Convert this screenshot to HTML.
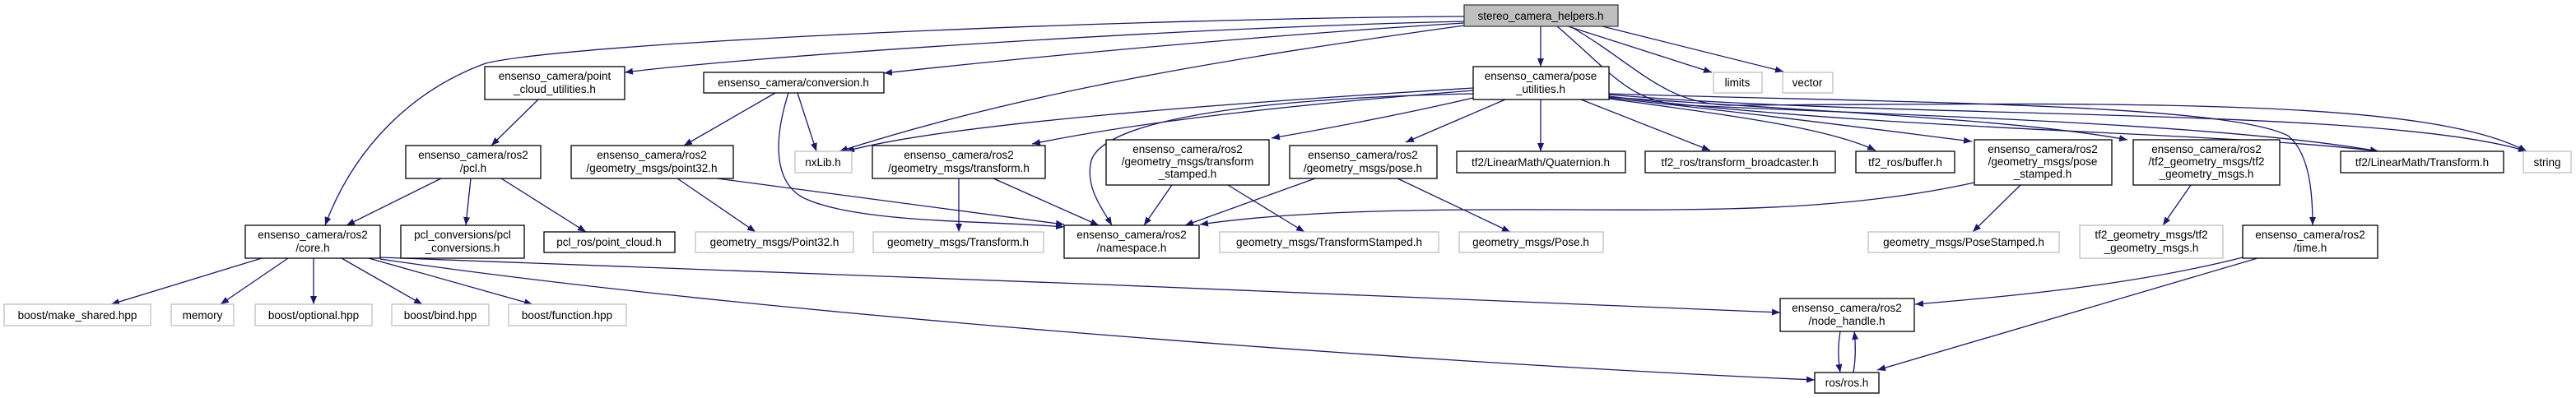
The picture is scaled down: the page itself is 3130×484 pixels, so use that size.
<!DOCTYPE html>
<html><head><meta charset="utf-8"><style>
html,body{margin:0;padding:0;background:#fff}
svg{display:block}
text{font-family:"Liberation Sans",sans-serif;font-size:13.5px;fill:#000}
.b{fill:#fff;stroke:#000;stroke-width:1.3}
.g{fill:#fff;stroke:#bfbfbf;stroke-width:1.3}
.e{fill:none;stroke:#191970;stroke-width:1.3}
</style></head><body>
<svg width="3130" height="484" viewBox="0 0 3130 484" xmlns="http://www.w3.org/2000/svg">
<defs><marker id="a" viewBox="0 0 10 8" refX="10" refY="4" markerWidth="10" markerHeight="8" markerUnits="userSpaceOnUse" orient="auto"><path d="M0,0L10,4L0,8z" fill="#191970"/></marker></defs>
<g marker-end="url(#a)">
<!-- stereo edges -->
<path class="e" d="M1779,26 C1400,35 900,70 759,88"/>
<path class="e" d="M1779,20 C1400,22 700,50 590,77 C500,110 430,180 395,274"/>
<path class="e" d="M1779,28 C1500,45 1200,75 1074,89"/>
<path class="e" d="M1779,31 C1500,70 1250,110 1020,184"/>
<path class="e" d="M1872,32 L1872,81"/>
<path class="e" d="M1905,32 L2080,88"/>
<path class="e" d="M1947,32 L2167,87"/>
<path class="e" d="M1892,32 C1960,90 1980,125 2050,128 C2300,140 2700,150 2890,184"/>
<path class="e" d="M1908,32 C1990,80 2020,125 2100,128 C2600,125 2950,120 3070,184"/>
<!-- pose_utilities edges -->
<path class="e" d="M1790,107 C1500,125 1150,150 1028,184"/>
<path class="e" d="M1790,110 C1600,125 1400,145 1254,175"/>
<path class="e" d="M1790,114 C1500,120 1330,150 1325,200 C1320,230 1340,255 1351,274"/>
<path class="e" d="M1790,119 C1700,140 1620,155 1545,168"/>
<path class="e" d="M1829,121 L1708,173"/>
<path class="e" d="M1872,121 L1872,184"/>
<path class="e" d="M1921,121 L2078,183"/>
<path class="e" d="M1955,120 C2100,140 2220,155 2279,183"/>
<path class="e" d="M1955,119 C2150,140 2300,160 2396,172"/>
<path class="e" d="M1955,118 C2200,135 2450,145 2585,170"/>
<path class="e" d="M1955,117 C2300,160 2700,160 2890,184"/>
<path class="e" d="M1955,115 C2300,145 2900,130 3070,184"/>
<path class="e" d="M1955,114 C2300,125 2700,125 2780,165 C2805,185 2810,230 2810,274"/>
<!-- conversion -->
<path class="e" d="M942,113 L831,177"/>
<path class="e" d="M969,113 L992,184"/>
<path class="e" d="M958,113 C940,170 940,220 975,240 C1040,272 1200,268 1293,276"/>
<!-- pcu / pcl -->
<path class="e" d="M654,121 L597,177"/>
<path class="e" d="M536,217 L421,274"/>
<path class="e" d="M572,217 L566,274"/>
<path class="e" d="M609,217 L712,282"/>
<!-- point32 -->
<path class="e" d="M823,217 L918,282"/>
<path class="e" d="M871,217 L1293,273"/>
<!-- transform -->
<path class="e" d="M1165,217 L1165,282"/>
<path class="e" d="M1207,217 L1335,274"/>
<!-- transform stamped -->
<path class="e" d="M1424,225 L1390,274"/>
<path class="e" d="M1492,225 L1585,282"/>
<!-- pose -->
<path class="e" d="M1598,217 L1440,274"/>
<path class="e" d="M1698,217 L1835,282"/>
<!-- pose stamped -->
<path class="e" d="M2399,222 C2250,255 2100,256 1900,255 C1700,254 1560,258 1458,273"/>
<path class="e" d="M2455,225 L2397,282"/>
<!-- tf2 gm -->
<path class="e" d="M2662,225 L2628,274"/>
<!-- core -->
<path class="e" d="M318,314 L135,370"/>
<path class="e" d="M350,314 L268,370"/>
<path class="e" d="M381,314 L381,370"/>
<path class="e" d="M415,314 L513,370"/>
<path class="e" d="M448,314 L647,370"/>
<path class="e" d="M462,313 C900,330 1700,358 2163,380"/>
<path class="e" d="M462,315 C900,380 1700,440 2205,462"/>
<!-- time -->
<path class="e" d="M2725,313 C2600,345 2450,360 2327,370"/>
<path class="e" d="M2743,314 L2281,450"/>
<!-- node_handle / ros -->
<path class="e" d="M2236,403 C2233,420 2233,435 2236,453"/>
<path class="e" d="M2252,453 C2255,435 2255,420 2253,403"/>
</g>
<!-- nodes -->
<g text-anchor="middle">
<rect x="1779" y="6" width="187" height="26" fill="#bfbfbf" stroke="#404040" stroke-width="1.3"/><text x="1872" y="24">stereo_camera_helpers.h</text>
<rect class="b" x="589" y="81" width="170" height="40"/><text x="674" y="97">ensenso_camera/point</text><text x="674" y="113">_cloud_utilities.h</text>
<rect class="b" x="855" y="88" width="219" height="25"/><text x="964" y="105">ensenso_camera/conversion.h</text>
<rect class="b" x="1790" y="81" width="165" height="40"/><text x="1872" y="97">ensenso_camera/pose</text><text x="1872" y="113">_utilities.h</text>
<rect class="g" x="2082" y="88" width="59" height="25"/><text x="2111" y="105">limits</text>
<rect class="g" x="2166" y="88" width="61" height="25"/><text x="2196" y="105">vector</text>
<rect class="b" x="493" y="177" width="164" height="40"/><text x="575" y="193">ensenso_camera/ros2</text><text x="575" y="209">/pcl.h</text>
<rect class="b" x="694" y="177" width="197" height="40"/><text x="792" y="193">ensenso_camera/ros2</text><text x="792" y="209">/geometry_msgs/point32.h</text>
<rect class="g" x="966" y="184" width="69" height="26"/><text x="1000" y="202">nxLib.h</text>
<rect class="b" x="1060" y="177" width="210" height="40"/><text x="1165" y="193">ensenso_camera/ros2</text><text x="1165" y="209">/geometry_msgs/transform.h</text>
<rect class="b" x="1344" y="170" width="198" height="55"/><text x="1443" y="186">ensenso_camera/ros2</text><text x="1443" y="201">/geometry_msgs/transform</text><text x="1443" y="216">_stamped.h</text>
<rect class="b" x="1567" y="177" width="179" height="40"/><text x="1656" y="193">ensenso_camera/ros2</text><text x="1656" y="209">/geometry_msgs/pose.h</text>
<rect class="b" x="1770" y="184" width="205" height="26"/><text x="1872" y="202">tf2/LinearMath/Quaternion.h</text>
<rect class="b" x="1999" y="184" width="231" height="26"/><text x="2114" y="202">tf2_ros/transform_broadcaster.h</text>
<rect class="b" x="2255" y="184" width="120" height="26"/><text x="2315" y="202">tf2_ros/buffer.h</text>
<rect class="b" x="2399" y="170" width="167" height="55"/><text x="2482" y="186">ensenso_camera/ros2</text><text x="2482" y="201">/geometry_msgs/pose</text><text x="2482" y="216">_stamped.h</text>
<rect class="b" x="2592" y="170" width="178" height="55"/><text x="2681" y="186">ensenso_camera/ros2</text><text x="2681" y="201">/tf2_geometry_msgs/tf2</text><text x="2681" y="216">_geometry_msgs.h</text>
<rect class="b" x="2844" y="184" width="198" height="26"/><text x="2943" y="202">tf2/LinearMath/Transform.h</text>
<rect class="g" x="3066" y="184" width="58" height="26"/><text x="3095" y="202">string</text>
<rect class="b" x="298" y="274" width="164" height="40"/><text x="380" y="290">ensenso_camera/ros2</text><text x="380" y="306">/core.h</text>
<rect class="b" x="487" y="274" width="150" height="40"/><text x="562" y="290">pcl_conversions/pcl</text><text x="562" y="306">_conversions.h</text>
<rect class="b" x="661" y="282" width="159" height="25"/><text x="740" y="299">pcl_ros/point_cloud.h</text>
<rect class="g" x="845" y="282" width="192" height="25"/><text x="941" y="299">geometry_msgs/Point32.h</text>
<rect class="g" x="1061" y="282" width="207" height="25"/><text x="1164" y="299">geometry_msgs/Transform.h</text>
<rect class="b" x="1293" y="274" width="164" height="40"/><text x="1375" y="290">ensenso_camera/ros2</text><text x="1375" y="306">/namespace.h</text>
<rect class="g" x="1482" y="282" width="266" height="25"/><text x="1615" y="299">geometry_msgs/TransformStamped.h</text>
<rect class="g" x="1773" y="282" width="175" height="25"/><text x="1860" y="299">geometry_msgs/Pose.h</text>
<rect class="g" x="2270" y="282" width="232" height="25"/><text x="2386" y="299">geometry_msgs/PoseStamped.h</text>
<rect class="g" x="2527" y="274" width="174" height="40"/><text x="2614" y="290">tf2_geometry_msgs/tf2</text><text x="2614" y="306">_geometry_msgs.h</text>
<rect class="b" x="2725" y="274" width="164" height="40"/><text x="2807" y="290">ensenso_camera/ros2</text><text x="2807" y="306">/time.h</text>
<rect class="g" x="5" y="370" width="178" height="26"/><text x="94" y="388">boost/make_shared.hpp</text>
<rect class="g" x="208" y="370" width="76" height="26"/><text x="246" y="388">memory</text>
<rect class="g" x="310" y="370" width="142" height="26"/><text x="381" y="388">boost/optional.hpp</text>
<rect class="g" x="476" y="370" width="118" height="26"/><text x="535" y="388">boost/bind.hpp</text>
<rect class="g" x="618" y="370" width="143" height="26"/><text x="689" y="388">boost/function.hpp</text>
<rect class="b" x="2163" y="363" width="163" height="40"/><text x="2244" y="379">ensenso_camera/ros2</text><text x="2244" y="395">/node_handle.h</text>
<rect class="b" x="2205" y="453" width="78" height="25"/><text x="2244" y="470">ros/ros.h</text>
</g>
</svg>
</body></html>
